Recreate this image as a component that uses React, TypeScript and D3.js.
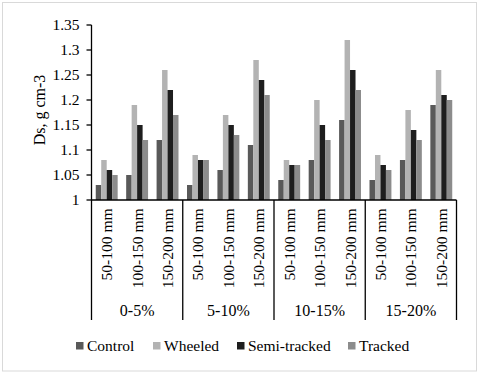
import React from "react";
import * as d3 from "d3";

const groups = ["0-5%", "5-10%", "10-15%", "15-20%"];
const depths = ["50-100 mm", "100-150 mm", "150-200 mm"];
const series = ["Control", "Wheeled", "Semi-tracked", "Tracked"];
const colors = ["#595959", "#b3b3b3", "#1e1e1e", "#8c8c8c"];
// values[series][group*3 + depth]
const control = [1.03, 1.05, 1.12, 1.03, 1.06, 1.11, 1.04, 1.08, 1.16, 1.04, 1.08, 1.19];
const wheeled = [1.08, 1.19, 1.26, 1.09, 1.17, 1.28, 1.08, 1.20, 1.32, 1.09, 1.18, 1.26];
const semiTracked = [1.06, 1.15, 1.22, 1.08, 1.15, 1.24, 1.07, 1.15, 1.26, 1.07, 1.14, 1.21];
const tracked = [1.05, 1.12, 1.17, 1.08, 1.13, 1.21, 1.07, 1.12, 1.22, 1.06, 1.12, 1.20];
const yTicks = [1, 1.05, 1.1, 1.15, 1.2, 1.25, 1.3, 1.35];

const values = [control, wheeled, semiTracked, tracked];

export default function App() {
  const W = 480, H = 375;
  const left = 91.5, right = 456.5, top = 25, bottom = 200;
  const cats = d3.range(12).map(String);
  const x = d3.scaleBand<string>().domain(cats).range([left, right]).paddingInner(0.28).paddingOuter(0.14);
  const inner = d3.scaleBand<string>().domain(series).range([0, x.bandwidth()]);
  const y = d3.scaleLinear().domain([1, 1.35]).range([bottom, top]);
  const catCenter = (i: number) => left + ((right - left) / 12) * (i + 0.5);
  const gW = (right - left) / 4;
  const legendX = [76, 153, 237, 348];
  const ts = { fontFamily: "'Liberation Serif'", fontSize: 15.5 };

  return (
    <svg width={W} height={H} style={{ position: "absolute", left: 0, top: 0 }}>
      <rect x={0} y={0} width={W} height={H} fill="#fff" />
      <rect x={2.5} y={2.5} width={474} height={368.5} fill="none" stroke="#d9d9d9" />
      {values.map((vals, si) =>
        vals.map((v, i) => (
          <rect
            key={`${si}-${i}`}
            x={(x(String(i)) as number) + (inner(series[si]) as number)}
            y={y(v)}
            width={inner.bandwidth()}
            height={y(1) - y(v)}
            fill={colors[si]}
          />
        ))
      )}
      <line x1={left} x2={left} y1={top} y2={bottom} stroke="#000" strokeWidth={1.3} />
      {yTicks.map((t) => (
        <g key={t}>
          <line x1={left - 5} x2={left} y1={y(t)} y2={y(t)} stroke="#000" strokeWidth={1.3} />
          <text x={79.5} y={y(t) + 5} textAnchor="end" style={ts} fill="#000">
            {String(t)}
          </text>
        </g>
      ))}
      <text
        transform={`translate(44.5,110) rotate(-90)`}
        textAnchor="middle"
        style={{ fontFamily: "'Liberation Serif'", fontSize: 16 }}
        fill="#000"
      >
        Ds, g cm-3
      </text>
      <line x1={left} x2={right} y1={bottom} y2={bottom} stroke="#000" strokeWidth={1.3} />
      {d3.range(5).map((g) => (
        <line key={g} x1={left + g * gW} x2={left + g * gW} y1={bottom} y2={320} stroke="#000" strokeWidth={1.3} />
      ))}
      {cats.map((c, i) => (
        <text
          key={c}
          transform={`translate(${catCenter(i) + 5.5},208.5) rotate(-90)`}
          textAnchor="end"
          style={ts}
          fill="#000"
        >
          {depths[i % 3]}
        </text>
      ))}
      {groups.map((g, gi) => (
        <text key={g} x={left + gW * (gi + 0.5)} y={315.5} textAnchor="middle" style={{ fontFamily: "'Liberation Serif'", fontSize: 16 }} fill="#000">
          {g}
        </text>
      ))}
      {series.map((s, si) => (
        <g key={s}>
          <rect x={legendX[si]} y={342} width={7.5} height={7.5} fill={colors[si]} />
          <text x={legendX[si] + 11} y={350.5} style={ts} fill="#000">
            {s}
          </text>
        </g>
      ))}
    </svg>
  );
}
